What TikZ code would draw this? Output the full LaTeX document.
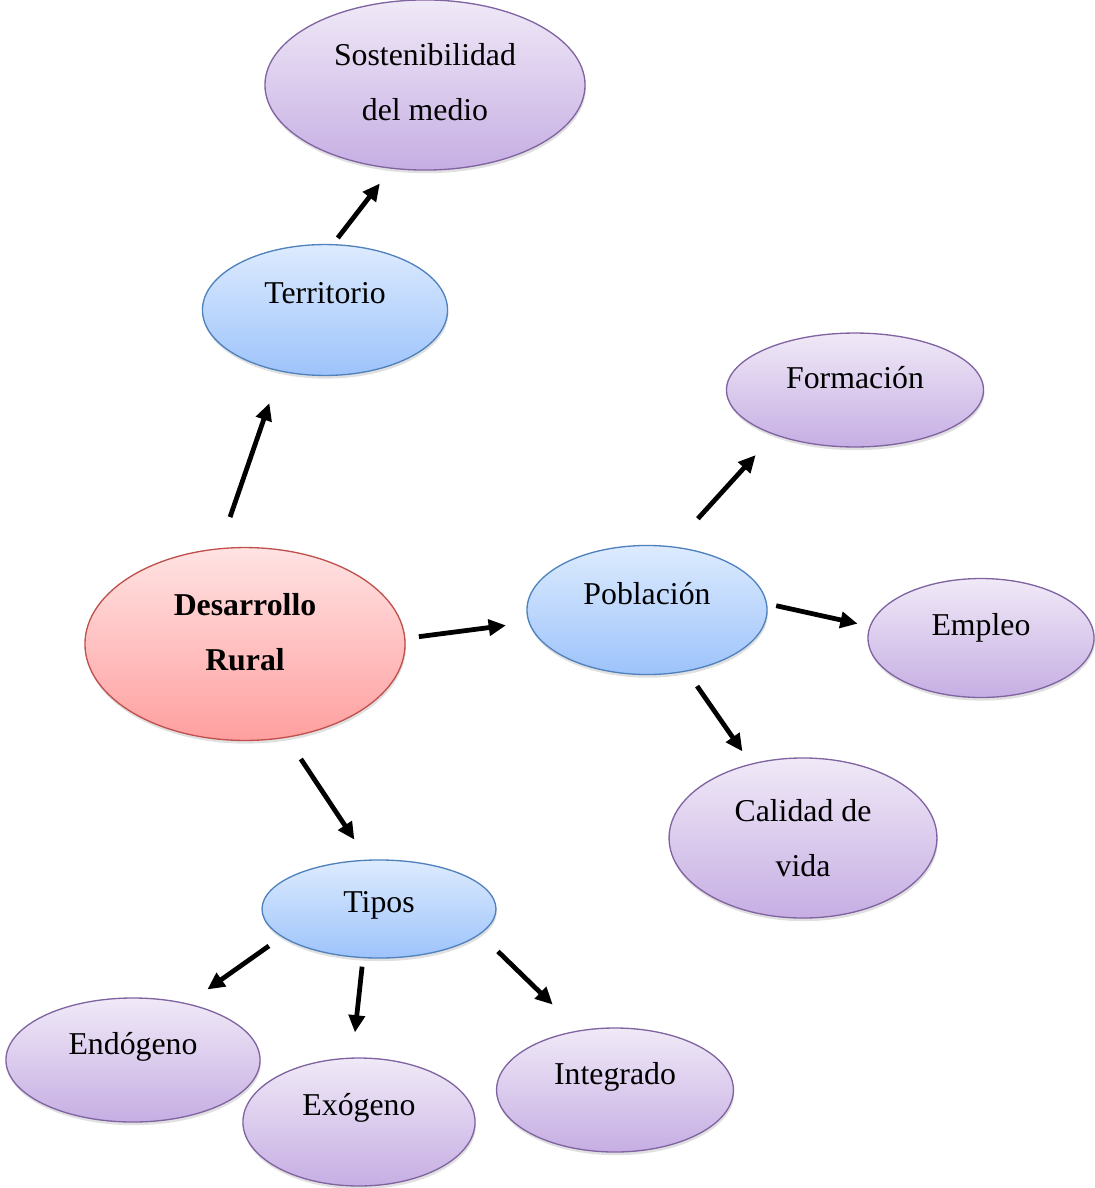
\documentclass[tikz,border=0pt]{standalone}
\usepackage{fontspec}
\setmainfont{Liberation Serif}
\usepackage{tikz}
\usetikzlibrary{shapes.geometric,arrows.meta,shadows}

\definecolor{redtop}{HTML}{FFE3E3}
\definecolor{redbot}{HTML}{FF9F9F}
\definecolor{redline}{HTML}{C0504D}
\definecolor{bluetop}{HTML}{DDEBFE}
\definecolor{bluebot}{HTML}{9DC3FB}
\definecolor{blueline}{HTML}{4F81BD}
\definecolor{lilatop}{HTML}{F0E9F7}
\definecolor{lilabot}{HTML}{C6AEE3}
\definecolor{lilaline}{HTML}{8064A2}

\newcommand{\ovtext}[2]{\raisebox{#1}[0pt][0pt]{\makebox[0pt]{\parbox[t]{4cm}{\centering #2}}}}

\tikzset{
  oval/.style={ellipse, line width=0.5pt, inner sep=0pt,
    font=\fontsize{12}{20.8}\selectfont,
    drop shadow={shadow xshift=0.3pt, shadow yshift=-1.2pt, fill=black, opacity=0.12}},
  mainoval/.style={oval, draw=redline, top color=redtop, bottom color=redbot},
  topicoval/.style={oval, draw=blueline, top color=bluetop, bottom color=bluebot},
  leafoval/.style={oval, draw=lilaline, top color=lilatop, bottom color=lilabot},
  arr/.style={line width=1.8pt, -{Triangle[length=6.5pt,width=6pt]}}
}

\begin{document}
\begin{tikzpicture}[x=0.3774pt, y=-0.3774pt]

      \useasboundingbox (0,0) rectangle (1095,1188);

      %Centre
      \node [mainoval, minimum width=120.8pt, minimum height=72.8pt] (dr) at (245,644)
            {\ovtext{10.9pt}{\textbf{Desarrollo}\\\textbf{Rural}}};

      %Territorio
      \node [topicoval, minimum width=92.5pt, minimum height=49.4pt] (terr) at (325,310)
            {\ovtext{2.6pt}{Territorio}};
      \node [leafoval, minimum width=120.8pt, minimum height=64.2pt] (sost) at (425,85)
            {\ovtext{7.5pt}{Sostenibilidad\\del medio}};

      %Poblacion
      \node [topicoval, minimum width=90.6pt, minimum height=48.7pt] (pob) at (647,610)
            {\ovtext{1.9pt}{Población}};
      \node [leafoval, minimum width=97pt, minimum height=43pt] (form) at (855,390)
            {\ovtext{0.6pt}{Formación}};
      \node [leafoval, minimum width=85.3pt, minimum height=44.9pt] (empl) at (981,638)
            {\ovtext{1.1pt}{Empleo}};
      \node [leafoval, minimum width=101.1pt, minimum height=60.4pt] (cal) at (803,838)
            {\ovtext{6.1pt}{Calidad de\\vida}};

      %Tipos
      \node [topicoval, minimum width=88.3pt, minimum height=37pt] (tipos) at (379,909)
            {\ovtext{-1.5pt}{Tipos}};
      \node [leafoval, minimum width=95.9pt, minimum height=46.8pt] (endo) at (133,1060)
            {\ovtext{1.9pt}{Endógeno}};
      \node [leafoval, minimum width=87.6pt, minimum height=48.3pt] (exo) at (359,1122)
            {\ovtext{2.6pt}{Exógeno}};
      \node [leafoval, minimum width=89.4pt, minimum height=46.8pt] (integ) at (615,1090)
            {\ovtext{1.9pt}{Integrado}};

      %Arrows
      \draw [arr, shorten <=12.4pt, shorten >=12.6pt] (dr.105) -- (terr.234);
      \draw [arr, shorten <=2.9pt, shorten >=7pt] (terr.83) -- (sost.248);
      \draw [arr, shorten <=5.1pt, shorten >=8.6pt] (dr.2.7) -- (pob.186.7);
      \draw [arr, shorten <=14.1pt, shorten >=10.3pt] (pob.68.3) -- (form.209.9);
      \draw [arr, shorten <=3.5pt, shorten >=4.6pt] (pob.3.9) -- (empl.174.3);
      \draw [arr, shorten <=6.7pt, shorten >=5.6pt] (pob.303.9) -- (cal.125.6);
      \draw [arr, shorten <=9.6pt, shorten >=9pt] (dr.294.8) -- (tipos.103.8);
      \draw [arr, shorten <=5.9pt, shorten >=9.1pt] (tipos.196.2) -- (endo.46);
      \draw [arr, shorten <=3.2pt, shorten >=9.5pt] (tipos.252.8) -- (exo.96.3);
      \draw [arr, shorten <=9.3pt, shorten >=13.9pt] (tipos.346.3) -- (integ.121.1);
    \end{tikzpicture}
\end{document}
